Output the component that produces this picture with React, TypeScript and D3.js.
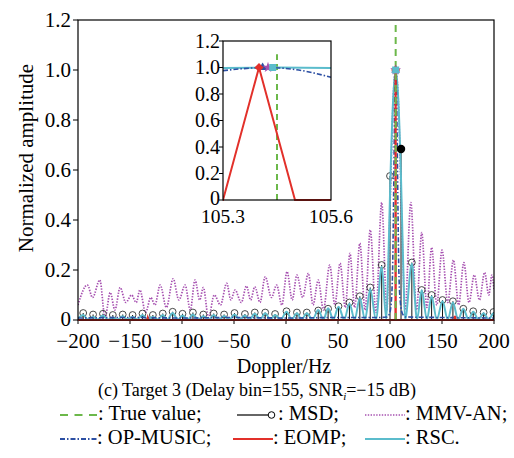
import React from "react";
import * as d3 from "d3";

type P = [number, number];

const xTicks = [-200, -150, -100, -50, 0, 50, 100, 150, 200];
const yTicks = [0, 0.2, 0.4, 0.6, 0.8, 1.0, 1.2];
const yTickLabels = ["0", "0.2", "0.4", "0.6", "0.8", "1.0", "1.2"];
const insetXTicks = [105.3, 105.6];
const insetXLabels = ["105.3", "105.6"];

const trueValue = 105.45;

const mmvAN: P[] = [
  [-200, 0.06], [-191, 0.14], [-186, 0.09], [-179, 0.16], [-174, 0.01], [-169, 0.11], [-164.5, 0.04],
  [-159.5, 0.13], [-154, 0.07], [-148.5, 0.1], [-144, 0.07], [-140.5, 0.12], [-135, 0.03], [-130, 0.09],
  [-126, 0.06], [-121, 0.14], [-115, 0.05], [-108.5, 0.165], [-103, 0.08], [-97, 0.14], [-92, 0.04],
  [-87.5, 0.16], [-83, 0.08], [-79.5, 0.13], [-74.5, 0.01], [-69, 0.1], [-63, 0.06], [-57, 0.147],
  [-53, 0.08], [-49, 0.12], [-43, 0.07], [-38, 0.136], [-34, 0.08], [-30, 0.133], [-25, 0.07],
  [-20, 0.173], [-14, 0.09], [-9, 0.14], [-4, 0.06], [1, 0.193], [6, 0.08], [10.5, 0.18], [16, 0.09],
  [21.5, 0.187], [26, 0.06], [31, 0.16], [36, 0.04], [42, 0.22], [47, 0.06], [52, 0.227], [57, 0.05],
  [61.5, 0.267], [66, 0.05], [71, 0.307], [76, 0.04], [81, 0.36], [86.5, 0.03], [92, 0.47], [97, 0.04],
  [99, 0.3], [101, 0.6], [103, 0.88], [105.45, 1.0], [108, 0.88], [110, 0.6], [112, 0.3], [114.5, 0.04],
  [120, 0.47], [125.5, 0.04], [130.5, 0.35], [135.5, 0.05], [140, 0.29], [145, 0.06], [150, 0.28],
  [155.5, 0.07], [161, 0.24], [166, 0.06], [171, 0.23], [176, 0.07], [181, 0.18], [186, 0.08],
  [191, 0.19], [195, 0.1], [198, 0.18], [200, 0.12],
];

const rsc: P[] = [
  [-200, 0.006], [-195, 0.02], [-190.5, 0.002], [-185.5, 0.012], [-181, 0.002], [-176, 0.018],
  [-171.5, 0.002], [-166.5, 0.01], [-162, 0.002], [-157, 0.015], [-152.5, 0.002], [-147.5, 0.012],
  [-143, 0.002], [-138, 0.02], [-133, 0.002], [-128, 0.012], [-123, 0.002], [-118.5, 0.02],
  [-114, 0.002], [-109, 0.028], [-104, 0.002], [-99.5, 0.018], [-94.5, 0.002], [-89.5, 0.022],
  [-84.5, 0.002], [-79.5, 0.015], [-74.5, 0.002], [-69.5, 0.02], [-64.5, 0.002], [-59.5, 0.016],
  [-54.5, 0.002], [-49.5, 0.022], [-44.5, 0.002], [-39.5, 0.018], [-35, 0.002], [-30, 0.025],
  [-25, 0.002], [-20, 0.027], [-15, 0.002], [-10.5, 0.02], [-5, 0.002], [0.5, 0.033], [5.5, 0.002],
  [10.5, 0.027], [15, 0.002], [20, 0.027], [25.5, 0.002], [31, 0.04], [36, 0.002], [40.5, 0.047],
  [45.5, 0.002], [50.5, 0.053], [56, 0.002], [61, 0.065], [66, 0.002], [71, 0.087], [76, 0.002],
  [81, 0.123], [86.5, 0.002], [92, 0.213], [96.5, 0.002], [98.5, 0.25], [100.5, 0.58], [103, 0.88],
  [105.45, 1.0], [108, 0.88], [110.5, 0.58], [112.5, 0.25], [114.5, 0.002], [121, 0.225],
  [126, 0.002], [130.5, 0.12], [135.5, 0.002], [140, 0.095], [145, 0.002], [150.5, 0.075],
  [155.5, 0.002], [160.5, 0.07], [165.5, 0.002], [170.5, 0.045], [175.5, 0.002], [180, 0.033],
  [185, 0.002], [190, 0.027], [195, 0.002], [199.5, 0.027], [200, 0.02],
];

const msd: P[] = [
  [-195, 0.028], [-185.5, 0.022], [-176, 0.025], [-166.5, 0.02], [-157, 0.022], [-147.5, 0.02],
  [-138, 0.026], [-128, 0.02], [-118.5, 0.026], [-109, 0.033], [-99.5, 0.025], [-89.5, 0.03],
  [-79.5, 0.022], [-69.5, 0.026], [-59.5, 0.022], [-49.5, 0.028], [-39.5, 0.024], [-30, 0.03],
  [-20, 0.03], [-10.5, 0.024], [0.5, 0.035], [10.5, 0.03], [20, 0.03], [31, 0.038], [40.5, 0.045],
  [50.5, 0.055], [61, 0.07], [71, 0.095], [81, 0.13], [92, 0.22], [100, 0.576], [121, 0.23],
  [130.5, 0.12], [140, 0.1], [150.5, 0.08], [160.5, 0.075], [170.5, 0.045], [180, 0.035],
  [190, 0.03], [199.5, 0.032],
];
const msdEstimate: P = [110.6, 0.684];

const opMusic: P[] = [
  [-200, 0.008], [-150, 0.01], [-100, 0.008], [-50, 0.01], [0, 0.008], [50, 0.01], [90, 0.01],
  [97, 0.012], [99.5, 0.025], [101, 0.06], [102.5, 0.2], [103.5, 0.5], [104.5, 0.85], [105.45, 1.0],
  [106.5, 0.85], [107.5, 0.5], [108.5, 0.2], [110, 0.07], [112, 0.025], [115, 0.012], [150, 0.01],
  [200, 0.008],
];

const eomp: P[] = [
  [-200, 0], [-133.5, 0], [-133, 0.008], [-132.5, 0], [105.3, 0], [105.4, 1.0], [105.5, 0],
  [162, 0], [162.5, 0.016], [163, 0], [200, 0],
];

const insetOpMusic: P[] = [
  [105.3, 0.976], [105.35, 0.99], [105.42, 1.0], [105.5, 0.985], [105.55, 0.96], [105.6, 0.926],
];
const insetRsc: P[] = [[105.3, 0.997], [105.45, 1.0], [105.6, 0.997]];

const markerEomp: P = [105.4, 1.0];
const markerOpMusic: P = [105.41, 1.0];
const markerMmv: P = [105.425, 1.0];
const markerRsc: P = [105.438, 1.0];

const C = {
  green: "#6cb84a",
  purple: "#a650b0",
  blue: "#2c4fa3",
  red: "#e2302a",
  cyan: "#5bbccc",
  black: "#111",
};

const FONT = "'Liberation Serif', 'Times New Roman', serif";

function diamond(cx: number, cy: number, r: number) {
  return `M${cx},${cy - r}L${cx + r},${cy}L${cx},${cy + r}L${cx - r},${cy}Z`;
}

export default function App() {
  const x = d3.scaleLinear().domain([-200, 200]).range([78, 494]);
  const y = d3.scaleLinear().domain([0, 1.2]).range([320, 20]);
  const ix = d3.scaleLinear().domain([105.3, 105.6]).range([223, 331]);
  const iy = d3.scaleLinear().domain([0, 1.2]).range([200, 41]);

  const lineM = (curve: any) =>
    d3.line<P>().x((d) => x(d[0])).y((d) => y(d[1])).curve(curve);
  const lineI = (curve: any) =>
    d3.line<P>().x((d) => ix(d[0])).y((d) => iy(d[1])).curve(curve);

  const star = d3.symbol().type(d3.symbolStar).size(36)() as string;
  const tri = d3.symbol().type(d3.symbolTriangle).size(34)() as string;

  const markers = (sx: (v: number) => number, sy: (v: number) => number) => (
    <g>
      <path d={tri} transform={`translate(${sx(markerOpMusic[0])},${sy(markerOpMusic[1])})`} fill={C.blue} />
      <path d={star} transform={`translate(${sx(markerMmv[0])},${sy(markerMmv[1])})`} fill={C.purple} />
      <path d={diamond(sx(markerEomp[0]), sy(markerEomp[1]), 4.5)} fill={C.red} />
      <rect x={sx(markerRsc[0]) - 3.5} y={sy(markerRsc[1]) - 3.5} width={7} height={7} fill={C.cyan} />
    </g>
  );

  return (
    <svg
      width={514}
      height={458}
      style={{ position: "absolute", left: 0, top: 0, background: "#fff" }}
      fontFamily={FONT}
    >
      <defs>
        <clipPath id="mainClip">
          <rect x={78} y={20} width={416} height={302} />
        </clipPath>
        <clipPath id="insetClip">
          <rect x={223} y={41} width={108} height={160} />
        </clipPath>
      </defs>

      {/* main axes ticks & labels */}
      {yTicks.map((t, i) => (
        <g key={"yt" + i}>
          <line x1={73} x2={78} y1={y(t)} y2={y(t)} stroke="#000" strokeWidth={1} />
          <text x={71} y={y(t) + (i === 0 ? -1 : 0)} dy="0.33em" textAnchor="end" fontSize={21}>
            {yTickLabels[i]}
          </text>
        </g>
      ))}
      {xTicks.map((t, i) => (
        <g key={"xt" + i}>
          <line x1={x(t)} x2={x(t)} y1={320} y2={324} stroke="#000" strokeWidth={1} />
          <text x={x(t)} y={348} textAnchor="middle" fontSize={21}>
            {t < 0 ? "\u2212" + Math.abs(t) : String(t)}
          </text>
        </g>
      ))}

      {/* series */}
      <g clipPath="url(#mainClip)">
        <path d={lineM(d3.curveMonotoneX)(mmvAN) as string} fill="none" stroke={C.purple} strokeWidth={1.7} strokeDasharray="1.4 1.4" />
        {msd.map((d, i) => (
          <g key={"m" + i}>
            <line x1={x(d[0])} x2={x(d[0])} y1={y(0)} y2={y(d[1])} stroke={C.black} strokeWidth={1} />
            <circle cx={x(d[0])} cy={y(d[1])} r={3.4} fill="none" stroke="#333" strokeWidth={0.9} />
          </g>
        ))}
        <line x1={x(msdEstimate[0])} x2={x(msdEstimate[0])} y1={y(0)} y2={y(msdEstimate[1])} stroke={C.black} strokeWidth={1} />
        <path d={lineM(d3.curveMonotoneX)(rsc) as string} fill="none" stroke={C.cyan} strokeWidth={2} />
        <path d={lineM(d3.curveMonotoneX)(opMusic) as string} fill="none" stroke={C.blue} strokeWidth={1.6} strokeDasharray="5 2 1.5 2" />
        <path d={lineM(d3.curveLinear)(eomp) as string} fill="none" stroke={C.red} strokeWidth={2.2} />
        <line x1={x(trueValue)} x2={x(trueValue)} y1={y(0)} y2={y(1.2)} stroke={C.green} strokeWidth={2} strokeDasharray="7 5" />
        <circle cx={x(msdEstimate[0])} cy={y(msdEstimate[1])} r={4.2} fill="#000" />
        {markers(x, y)}
      </g>
      <rect x={78} y={20} width={416} height={300} fill="none" stroke="#000" strokeWidth={1.2} />

      {/* inset */}
      <rect x={223} y={41} width={108} height={159} fill="#fff" stroke="none" />
      <g clipPath="url(#insetClip)">
        <line x1={ix(trueValue)} x2={ix(trueValue)} y1={iy(0)} y2={iy(1.1)} stroke={C.green} strokeWidth={2} strokeDasharray="6 4" />
        <path d={lineI(d3.curveMonotoneX)(insetRsc) as string} fill="none" stroke={C.cyan} strokeWidth={2} />
        <path d={lineI(d3.curveMonotoneX)(insetOpMusic) as string} fill="none" stroke={C.blue} strokeWidth={1.6} strokeDasharray="5 2 1.5 2" />
        <path d={lineI(d3.curveLinear)(eomp) as string} fill="none" stroke={C.red} strokeWidth={2} />
        {markers(ix, iy)}
      </g>
      <rect x={223} y={41} width={108} height={159} fill="none" stroke="#000" strokeWidth={1.2} />
      {yTicks.map((t, i) => (
        <g key={"iyt" + i}>
          <line x1={219} x2={223} y1={iy(t)} y2={iy(t)} stroke="#000" strokeWidth={1} />
          <text x={220} y={iy(t) + (i === 0 ? -2 : 0)} dy="0.33em" textAnchor="end" fontSize={20}>
            {yTickLabels[i]}
          </text>
        </g>
      ))}
      {insetXTicks.map((t, i) => (
        <text key={"ixt" + i} x={ix(t)} y={223} textAnchor="middle" fontSize={19.5}>
          {insetXLabels[i]}
        </text>
      ))}

      {/* axis titles */}
      <text transform="translate(33,158) rotate(-90)" textAnchor="middle" fontSize={21}>
        Normalized amplitude
      </text>
      <text x={284} y={373} textAnchor="middle" fontSize={20}>
        Doppler/Hz
      </text>
      <text x={257} y={396} textAnchor="middle" fontSize={18}>
        (c) Target 3 (Delay bin=155, SNR
        <tspan fontSize={11} fontStyle="italic" dy={4}>i</tspan>
        <tspan dy={-4}>=−15 dB)</tspan>
      </text>

      {/* legend */}
      <g fontSize={20.5}>
        <line x1={60} x2={97} y1={415} y2={415} stroke={C.green} strokeWidth={2} strokeDasharray="8 6.5" />
        <text x={98} y={420}>: True value;</text>
        <line x1={237} x2={268} y1={415} y2={415} stroke="#000" strokeWidth={1.2} />
        <circle cx={271.5} cy={415} r={3.3} fill="#fff" stroke="#000" strokeWidth={1} />
        <text x={278} y={420}>: MSD;</text>
        <line x1={365} x2={405} y1={415} y2={415} stroke={C.purple} strokeWidth={1.7} strokeDasharray="1.4 1.4" />
        <text x={405} y={420}>: MMV-AN;</text>

        <line x1={60} x2={97} y1={439} y2={439} stroke={C.blue} strokeWidth={1.8} strokeDasharray="5 2 1.5 2" />
        <text x={97} y={444}>: OP-MUSIC;</text>
        <line x1={233} x2={273} y1={439} y2={439} stroke={C.red} strokeWidth={2.2} />
        <text x={273} y={444}>: EOMP;</text>
        <line x1={365} x2={405} y1={439} y2={439} stroke={C.cyan} strokeWidth={2.2} />
        <text x={405} y={444}>: RSC.</text>
      </g>
    </svg>
  );
}
